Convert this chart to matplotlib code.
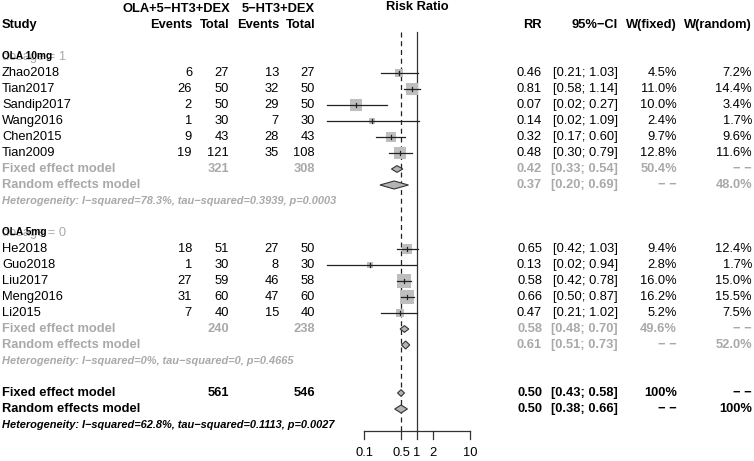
import numpy as np
import matplotlib
matplotlib.use('Agg')
import matplotlib.pyplot as plt
from matplotlib.patches import Polygon
from matplotlib.transforms import blended_transform_factory

plt.rcParams['font.family'] = ['Liberation Sans', 'DejaVu Sans']

# data
studies1 = ['Zhao2018', 'Tian2017', 'Sandip2017', 'Wang2016', 'Chen2015', 'Tian2009']
ev_e1 = [6, 26, 2, 1, 9, 19]
n_e1 = [27, 50, 50, 30, 43, 121]
ev_c1 = [13, 32, 29, 7, 28, 35]
n_c1 = [27, 50, 50, 30, 43, 108]
rr1 = [0.46, 0.81, 0.07, 0.14, 0.32, 0.48]
lo1 = [0.21, 0.58, 0.02, 0.02, 0.17, 0.30]
hi1 = [1.03, 1.14, 0.27, 1.09, 0.60, 0.79]
wf1 = [4.5, 11.0, 10.0, 2.4, 9.7, 12.8]
wr1 = [7.2, 14.4, 3.4, 1.7, 9.6, 11.6]

studies2 = ['He2018', 'Guo2018', 'Liu2017', 'Meng2016', 'Li2015']
ev_e2 = [18, 1, 27, 31, 7]
n_e2 = [51, 30, 59, 60, 40]
ev_c2 = [27, 8, 46, 47, 15]
n_c2 = [50, 30, 58, 60, 40]
rr2 = [0.65, 0.13, 0.58, 0.66, 0.47]
lo2 = [0.42, 0.02, 0.42, 0.50, 0.21]
hi2 = [1.03, 0.94, 0.78, 0.87, 1.02]
wf2 = [9.4, 2.8, 16.0, 16.2, 5.2]
wr2 = [12.4, 1.7, 15.0, 15.5, 7.5]

# summaries: (rr, lo, hi, w_fixed, w_random)
NA = '\u2212 \u2212'
sub1_fixed = (0.42, 0.33, 0.54, '50.4%', NA)
sub1_random = (0.37, 0.20, 0.69, NA, '48.0%')
sub1_tot = (321, 308)
sub1_het = 'Heterogeneity: I\u2212squared=78.3%, tau\u2212squared=0.3939, p=0.0003'
sub2_fixed = (0.58, 0.48, 0.70, '49.6%', NA)
sub2_random = (0.61, 0.51, 0.73, NA, '52.0%')
sub2_tot = (240, 238)
sub2_het = 'Heterogeneity: I\u2212squared=0%, tau\u2212squared=0, p=0.4665'
all_fixed = (0.50, 0.43, 0.58, '100%', NA)
all_random = (0.50, 0.38, 0.66, NA, '100%')
all_tot = (561, 546)
all_het = 'Heterogeneity: I\u2212squared=62.8%, tau\u2212squared=0.1113, p=0.0027'

xticks = [0.1, 0.5, 1, 2, 10]
xticklabels = ['0.1', '0.5', '1', '2', '10']

W, H = 754, 461
fig = plt.figure(figsize=(W / 100, H / 100), dpi=100)
ax = fig.add_axes([364 / W, 0, 106 / W, 1])
ax.set_xscale('log')
ax.set_xlim(0.1, 10)
ax.set_ylim(25.25, -3.5625)
ax.axis('off')

tr = blended_transform_factory(fig.transFigure, ax.transData)
FS = 9.3
HFS = 7.95
DG = '#A9A9A9'


def txt(xpx, row, s, ha='right', color='black', weight='normal', size=FS, style='normal'):
    ax.text(xpx / W, row, s, transform=tr, ha=ha, va='center', color=color,
            fontsize=size, fontweight=weight, fontstyle=style, clip_on=False)


# headers
txt(230, -3, 'OLA+5\u2212HT3+DEX', weight='bold')
txt(315, -3, '5\u2212HT3+DEX', weight='bold')
txt(2, -2, 'Study', ha='left', weight='bold')
for xp, s in [(192, 'Events'), (229, 'Total'), (279, 'Events'), (315, 'Total'),
              (542, 'RR'), (618, '95%\u2212CI'), (677, 'W(fixed)'), (752, 'W(random)')]:
    txt(xp, -2, s, weight='bold')
ax.text(1, -3.1, 'Risk Ratio', ha='center', va='center', fontsize=FS, fontweight='bold')


def study_rows(start, names, ee, ne, ec, nc, rr, lo, hi, wf, wr):
    for k in range(len(names)):
        r = start + k
        txt(2, r, names[k], ha='left')
        txt(192, r, str(ee[k]))
        txt(229, r, str(ne[k]))
        txt(279, r, str(ec[k]))
        txt(315, r, str(nc[k]))
        txt(542, r, '%.2f' % rr[k])
        txt(618, r, '[%.2f; %.2f]' % (lo[k], hi[k]))
        txt(677, r, '%.1f%%' % wf[k])
        txt(752, r, '%.1f%%' % wr[k])
        side_pt = 3.48 * np.sqrt(wf[k]) * 72 / 100
        ax.scatter([rr[k]], [r], marker='s', s=side_pt ** 2, color='#BEBEBE',
                   linewidths=0, zorder=2, clip_on=False)
        ax.plot([lo[k], hi[k]], [r, r], color='#222222', lw=0.9, zorder=3, clip_on=False)
        ax.plot([rr[k], rr[k]], [r - 0.13, r + 0.13], color='#222222', lw=0.9, zorder=4,
                clip_on=False)


def diamond(row, est, lo, hi, h=0.21):
    ax.add_patch(Polygon([[lo, row], [est, row - h], [hi, row], [est, row + h]],
                         closed=True, facecolor='#B4B4B4', edgecolor='#333333', lw=0.8,
                         zorder=5, clip_on=False))


def summary_rows(start, fixed, random, tot, het, color, hetsize=HFS):
    txt(2, start, 'Fixed effect model', ha='left', weight='bold', color=color)
    txt(229, start, str(tot[0]), weight='bold', color=color)
    txt(315, start, str(tot[1]), weight='bold', color=color)
    txt(2, start + 1, 'Random effects model', ha='left', weight='bold', color=color)
    for r, s in [(start, fixed), (start + 1, random)]:
        txt(542, r, '%.2f' % s[0], weight='bold', color=color)
        txt(618, r, '[%.2f; %.2f]' % (s[1], s[2]), weight='bold', color=color)
        txt(677, r, s[3], weight='bold', color=color)
        txt(752, r, s[4], weight='bold', color=color)
    diamond(start, fixed[0], fixed[1], fixed[2])
    diamond(start + 1, random[0], random[1], random[2], h=0.25)
    txt(2, start + 2, het, ha='left', weight='bold', style='italic', color=color, size=hetsize)


# subgroup 1 (label and byvar text overlap, as in the reference)
txt(2, 0, 'dosage = 1', ha='left', color=DG)
txt(2, -0.05, 'OLA 10mg', ha='left', weight='bold', size=7.3)
study_rows(1, studies1, ev_e1, n_e1, ev_c1, n_c1, rr1, lo1, hi1, wf1, wr1)
summary_rows(7, sub1_fixed, sub1_random, sub1_tot, sub1_het, DG)

# subgroup 2
txt(2, 11, 'dosage = 0', ha='left', color=DG)
txt(2, 10.95, 'OLA 5mg', ha='left', weight='bold', size=7.3)
study_rows(12, studies2, ev_e2, n_e2, ev_c2, n_c2, rr2, lo2, hi2, wf2, wr2)
summary_rows(17, sub2_fixed, sub2_random, sub2_tot, sub2_het, DG)

# overall
summary_rows(21, all_fixed, all_random, all_tot, all_het, 'black')

# reference lines
ax.plot([1, 1], [-1.56, 23.4], color='#333333', lw=0.9, zorder=1, clip_on=False)
ax.plot([all_fixed[0]] * 2, [-1.56, 23.4], color='#222222', lw=0.9, ls=(0, (4, 3)),
        zorder=1, clip_on=False)

# x axis
ax.plot([xticks[0], xticks[-1]], [23.4, 23.4], color='#333333', lw=0.9, clip_on=False)
for t, lab in zip(xticks, xticklabels):
    ax.plot([t, t], [23.4, 23.85], color='#333333', lw=0.9, clip_on=False)
    ax.text(t, 24.75, lab, ha='center', va='center', fontsize=FS)

fig.savefig('out.png', dpi=100)
